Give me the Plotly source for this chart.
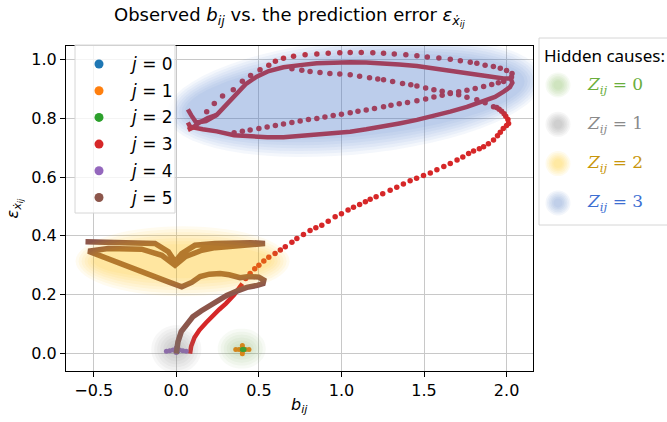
import numpy as np
import plotly.graph_objects as go

# ---------------- data ----------------
j0_x = [0.0, 0.01]
j0_y = [0.010, 0.010]
j1_x = [0.36, 0.38, 0.40, 0.42, 0.44, 0.40, 0.40, 0.40, 0.40]
j1_y = [0.014, 0.014, 0.014, 0.014, 0.014, 0.000, 0.028, 0.007, 0.021]
j2_x = [0.40, 0.41]
j2_y = [0.014, 0.014]
j4_x = [-0.06, -0.04, -0.02, 0.0, 0.02, 0.04, 0.06, 0.0, 0.0]
j4_y = [0.008, 0.010, 0.012, 0.014, 0.012, 0.010, 0.008, 0.004, 0.020]

# j = 3 : dense strands (lines) and sparse points (markers)
j3_dense_x = [0.083, 0.09, 0.11, 0.14, 0.18, 0.22, 0.26, 0.30, 0.35, 0.40, None,
              0.07, 0.083, 0.16, 0.245, 0.35, 0.447, 0.55, 0.649, 0.75, 0.851, 0.95, 1.053,
              1.15, 1.255, 1.35, 1.457, 1.56, 1.659, 1.76, 1.861, 1.93, 1.982, 2.02, 2.035,
              2.025, 1.982, 1.92, 1.861, 1.76, 1.659, 1.56, 1.457, 1.35, 1.255, 1.15, 1.053,
              0.95, 0.851, 0.75, 0.649, 0.56, 0.487, 0.42, 0.366, 0.30, 0.245, 0.18, 0.12,
              0.09, 0.07, None,
              0.07, 0.10, 0.14, 0.19, 0.245]
j3_dense_y = [0.0, 0.025, 0.055, 0.08, 0.105, 0.13, 0.15, 0.17, 0.20, 0.238, None,
              0.785, 0.771, 0.762, 0.755, 0.742, 0.737, 0.735, 0.735, 0.739, 0.743, 0.748, 0.754,
              0.762, 0.771, 0.782, 0.794, 0.807, 0.822, 0.838, 0.856, 0.872, 0.89, 0.905, 0.92,
              0.935, 0.935, 0.94, 0.947, 0.956, 0.964, 0.97, 0.977, 0.982, 0.986, 0.989, 0.99,
              0.989, 0.986, 0.98, 0.973, 0.96, 0.941, 0.915, 0.884, 0.845, 0.811, 0.79, 0.785,
              0.81, 0.83, None,
              0.76, 0.768, 0.785, 0.80, 0.811]
j3_x = [0.42, 0.447, 0.475, 0.50, 0.53, 0.56, 0.598, 0.63, 0.66, 0.70, 0.73, 0.77, 0.81,
        0.845, 0.881, 0.92, 0.962, 1.0, 1.04, 1.073, 1.11, 1.145, 1.174, 1.21, 1.25, 1.295,
        1.335, 1.375, 1.416, 1.455, 1.497, 1.538, 1.578, 1.62, 1.659, 1.70, 1.735, 1.77,
        1.80, 1.835, 1.861, 1.89, 1.921, 1.945, 1.962, 1.98, 2.0, 2.012, 2.008, 1.995,
        1.985, 1.97, 1.955, 1.94,
        # arc C (upper dotted, descending to the right)
        0.70, 0.76, 0.81, 0.87, 0.93, 0.99, 1.053, 1.11, 1.17, 1.22, 1.255, 1.31, 1.37,
        1.42, 1.457, 1.51, 1.56, 1.61, 1.659, 1.71, 1.76, 1.82, 1.87, 1.921,
        # arc D (lower dotted, rising to the right)
        0.35, 0.40, 0.447, 0.50, 0.55, 0.60, 0.649, 0.70, 0.75, 0.80, 0.851, 0.90, 0.95,
        1.0, 1.053, 1.10, 1.15, 1.20, 1.255, 1.30, 1.35, 1.40, 1.457, 1.51, 1.56, 1.61,
        1.659, 1.71, 1.76, 1.81, 1.861, 1.91, 1.95, 1.982,
        # arc A (outer top dotted)
        0.184, 0.23, 0.28, 0.345, 0.40, 0.45, 0.507, 0.56, 0.60, 0.649, 0.71, 0.78, 0.851,
        0.92, 0.99, 1.053, 1.12, 1.19, 1.255, 1.32, 1.39, 1.457, 1.52, 1.59, 1.659, 1.72,
        1.78, 1.82, 1.87, 1.92, 1.962, 2.0, 2.033, 2.03]
j3_y = [0.255, 0.272, 0.288, 0.30, 0.315, 0.327, 0.34, 0.352, 0.363, 0.378, 0.391, 0.405,
        0.418, 0.428, 0.436, 0.45, 0.465, 0.475, 0.488, 0.497, 0.507, 0.516, 0.524, 0.533,
        0.543, 0.555, 0.565, 0.576, 0.587, 0.596, 0.605, 0.614, 0.625, 0.636, 0.646, 0.658,
        0.668, 0.68, 0.688, 0.696, 0.703, 0.713, 0.726, 0.74, 0.752, 0.765, 0.775, 0.782,
        0.795, 0.806, 0.815, 0.823, 0.83, 0.836,
        0.968, 0.963, 0.958, 0.955, 0.952, 0.95, 0.947, 0.942, 0.937, 0.933, 0.93, 0.924,
        0.918, 0.913, 0.909, 0.902, 0.896, 0.891, 0.886, 0.879, 0.871, 0.862, 0.852, 0.839,
        0.75, 0.755, 0.76, 0.765, 0.77, 0.775, 0.78, 0.785, 0.79, 0.795, 0.799, 0.804, 0.809,
        0.813, 0.818, 0.823, 0.828, 0.833, 0.839, 0.844, 0.849, 0.853, 0.859, 0.865, 0.872,
        0.878, 0.884, 0.89, 0.895, 0.901, 0.907, 0.914, 0.92, 0.924,
        0.822, 0.85, 0.875, 0.896, 0.925, 0.945, 0.964, 0.98, 0.993, 1.003, 1.01, 1.015,
        1.018, 1.02, 1.022, 1.023, 1.023, 1.022, 1.02, 1.018, 1.015, 1.012, 1.008, 1.004,
        1.0, 0.995, 0.99, 0.986, 0.98, 0.975, 0.969, 0.962, 0.952, 0.94]

# j = 5 : dense strand
j5_x = [0.0, 0.01, 0.03, 0.06, 0.10, 0.15, 0.204, 0.25, 0.305, 0.37, 0.427, 0.49, 0.525,
        0.53, 0.50, 0.44, 0.386, 0.32, 0.265, 0.20, 0.144, 0.093, 0.033, -0.048, -0.13,
        -0.21, -0.31, -0.412, -0.50, -0.533, -0.412, -0.21, -0.088, -0.008, 0.053, 0.154,
        0.235, 0.35, 0.45, 0.537, 0.45, 0.30, 0.235, 0.113, 0.033, -0.008, -0.048, -0.129,
        -0.30, -0.45, -0.55]
j5_y = [0.0, 0.04, 0.075, 0.10, 0.125, 0.145, 0.162, 0.18, 0.198, 0.213, 0.225, 0.232,
        0.238, 0.25, 0.26, 0.262, 0.258, 0.268, 0.272, 0.27, 0.262, 0.242, 0.227, 0.244,
        0.262, 0.278, 0.30, 0.323, 0.34, 0.348, 0.357, 0.355, 0.334, 0.30, 0.329, 0.351,
        0.36, 0.366, 0.37, 0.374, 0.377, 0.376, 0.374, 0.368, 0.34, 0.312, 0.346, 0.374,
        0.377, 0.379, 0.38]

# hidden causes (blob centres in data units)
cause_labels = ["0", "1", "2", "3"]
cause_cx = [0.396, 0.0, 0.038, 1.08]
cause_cy = [0.017, 0.015, 0.314, 0.873]

x_ticks = [-0.5, 0.0, 0.5, 1.0, 1.5, 2.0]
y_ticks = [0.0, 0.2, 0.4, 0.6, 0.8, 1.0]

# ---------------- styling ----------------
W, H = 667, 422
L, R, T, B = 66, 134, 46, 51
XR = [-0.668, 2.16]
YR = [-0.059, 1.045]
pw, ph = W - L - R, H - T - B
sx = pw / (XR[1] - XR[0])
sy = ph / (YR[1] - YR[0])

tab = ["#1f77b4", "#ff7f0e", "#2ca02c", "#d62728", "#9467bd", "#8c564b"]
blob_fill = ["#70ad47", "#808080", "#ffc000", "#4472c4"]
blob_alpha = [0.32, 0.36, 0.36, 0.34]
blob_rpx = [(18, 14), (19, 18), (101, 29), (182, 52)]
blob_tilt = [0.0, 0.0, 0.0, 0.05]
label_col = ["#6aae3c", "#8a8a8a", "#c8960c", "#3d6fd2"]


def P(px, py):
    return (px - L) / pw, (H - B - py) / ph


def rgba(hexc, a):
    h = hexc.lstrip("#")
    return "rgba(%d,%d,%d,%.3f)" % (int(h[0:2], 16), int(h[2:4], 16), int(h[4:6], 16), a)


fig = go.Figure()
fig.add_trace(go.Scatter(x=j0_x, y=j0_y, mode="markers", marker=dict(color=tab[0], size=5), showlegend=False))
fig.add_trace(go.Scatter(x=j1_x, y=j1_y, mode="markers", marker=dict(color=tab[1], size=5), showlegend=False))
fig.add_trace(go.Scatter(x=j2_x, y=j2_y, mode="markers", marker=dict(color=tab[2], size=5), showlegend=False))
fig.add_trace(go.Scatter(x=j3_dense_x, y=j3_dense_y, mode="lines", line=dict(color=tab[3], width=4.5),
                         connectgaps=False, showlegend=False))
fig.add_trace(go.Scatter(x=j3_x, y=j3_y, mode="markers", marker=dict(color=tab[3], size=5.5), showlegend=False))
fig.add_trace(go.Scatter(x=j4_x, y=j4_y, mode="markers", marker=dict(color=tab[4], size=5), showlegend=False))
fig.add_trace(go.Scatter(x=j5_x, y=j5_y, mode="lines", line=dict(color=tab[5], width=5.5), showlegend=False))

shapes = []
# blurred blobs in data space
n_layers, step = 7, 3.0
for k in range(4):
    a_layer = 1 - (1 - blob_alpha[k]) ** (1.0 / n_layers)
    for i in range(n_layers):
        rx = (blob_rpx[k][0] + 6 - i * step) / sx
        ry = (blob_rpx[k][1] + 6 - i * step) / sy
        t = np.linspace(0, 2 * np.pi, 60, endpoint=False)
        ex = cause_cx[k] + rx * np.cos(t)
        ey = cause_cy[k] + ry * np.sin(t) + blob_tilt[k] * (ex - cause_cx[k])
        path = "M " + " L ".join("%.4f,%.4f" % (a, b) for a, b in zip(ex, ey)) + " Z"
        shapes.append(dict(type="path", path=path, xref="x", yref="y", layer="above",
                           fillcolor=rgba(blob_fill[k], a_layer), line=dict(width=0)))

# left legend frame
x0, y1 = P(75, 45)
x1, y0 = P(175, 213)
shapes.append(dict(type="rect", xref="paper", yref="paper", x0=x0, x1=x1, y0=y0, y1=y1,
                   fillcolor="rgba(255,255,255,0.8)", line=dict(color="#d6d6d6", width=1), layer="above"))
# right legend frame
x0, y1 = P(539, 38)
x1, y0 = P(700, 225)
shapes.append(dict(type="rect", xref="paper", yref="paper", x0=x0, x1=x1, y0=y0, y1=y1,
                   fillcolor="white", line=dict(color="#d6d6d6", width=1), layer="above"))

annotations = []
# left legend entries
for j in range(6):
    cy = 64 + 26.7 * j
    mx, my = P(99, cy)
    shapes.append(dict(type="circle", xref="paper", yref="paper", xsizemode="pixel", ysizemode="pixel",
                       xanchor=mx, yanchor=my, x0=-4.5, x1=4.5, y0=-4.5, y1=4.5,
                       fillcolor=tab[j], line=dict(width=0), layer="above"))
    tx, ty = P(128, cy)
    annotations.append(dict(x=tx, y=ty, xref="paper", yref="paper", xanchor="left", yanchor="middle",
                            text="<i>j</i> = %d" % j, showarrow=False,
                            font=dict(family="DejaVu Sans", size=17, color="black")))

# right legend entries
hx, hy = P(542, 55)
annotations.append(dict(x=hx, y=hy, xref="paper", yref="paper", xanchor="left", yanchor="middle",
                        text="Hidden causes:", showarrow=False,
                        font=dict(family="Noto Sans", size=17, color="black")))
for k in range(4):
    cy = 85 + 39.3 * k
    mx, my = P(558, cy)
    na = 6
    a_layer = 1 - (1 - blob_alpha[k]) ** (1.0 / na)
    for i in range(na):
        r = 12.5 - i * 1.6
        shapes.append(dict(type="circle", xref="paper", yref="paper", xsizemode="pixel", ysizemode="pixel",
                           xanchor=mx, yanchor=my, x0=-r, x1=r, y0=-r, y1=r,
                           fillcolor=rgba(blob_fill[k], a_layer), line=dict(width=0), layer="above"))
    tx, ty = P(585, cy)
    annotations.append(dict(x=tx, y=ty, xref="paper", yref="paper", xanchor="left", yanchor="middle",
                            text="<i>Z</i><sub><i>ij</i></sub> = " + cause_labels[k], showarrow=False,
                            font=dict(family="DejaVu Serif", size=17, color=label_col[k])))

# axis labels
ax_, ay_ = P((L + W - R) / 2, 405)
annotations.append(dict(x=ax_, y=ay_, xref="paper", yref="paper", xanchor="center", yanchor="middle",
                        text="<i>b</i><sub><i>ij</i></sub>", showarrow=False,
                        font=dict(family="DejaVu Sans", size=16, color="black")))
ax_, ay_ = P(14, (T + H - B) / 2)
annotations.append(dict(x=ax_, y=ay_, xref="paper", yref="paper", xanchor="center", yanchor="middle",
                        text="<i>ε</i><sub><i>ẋ</i><sub><i>ij</i></sub></sub>", textangle=-90, showarrow=False,
                        font=dict(family="DejaVu Sans", size=16, color="black")))
# title
ax_, ay_ = P(289, 16)
annotations.append(dict(x=ax_, y=ay_, xref="paper", yref="paper", xanchor="center", yanchor="middle",
                        text="Observed <i>b</i><sub><i>ij</i></sub> vs. the prediction error <i>ε</i><sub><i>ẋ</i><sub><i>ij</i></sub></sub>",
                        showarrow=False, font=dict(family="DejaVu Sans", size=18, color="black")))

axis_common = dict(showline=True, linecolor="black", linewidth=1, mirror=True, ticks="outside",
                   ticklen=5, tickwidth=1, tickcolor="black", showgrid=True, gridcolor="#c8c8c8",
                   gridwidth=1, zeroline=False, tickformat=".1f",
                   tickfont=dict(family="DejaVu Sans", size=16, color="black"))
fig.update_layout(
    width=W, height=H, margin=dict(l=L, r=R, t=T, b=B, autoexpand=False),
    paper_bgcolor="white", plot_bgcolor="white", showlegend=False,
    xaxis=dict(range=XR, tickvals=x_ticks, **axis_common),
    yaxis=dict(range=YR, tickvals=y_ticks, **axis_common),
    shapes=shapes, annotations=annotations,
)
fig.write_html("out.html")
